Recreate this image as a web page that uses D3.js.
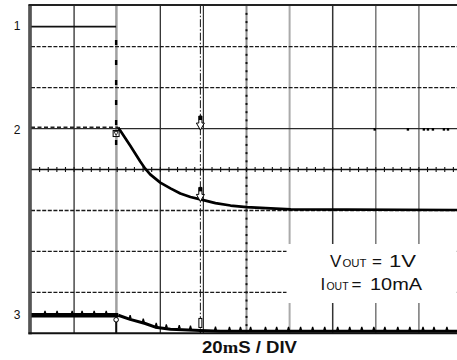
<!DOCTYPE html>
<html><head><meta charset="utf-8">
<script src="https://cdn.jsdelivr.net/npm/d3@7"></script>
<style>html,body{margin:0;padding:0;background:#fff;} svg{display:block;}</style>
</head><body>
<svg id="chart" width="457" height="360"></svg>
<script>
// Time in ms (20 ms per division, 10 divisions); amplitude in screen divisions (centre = 0)
const timeDomain = [0, 200];
const divDomain = [-4, 4];
const gridTimes = [20, 40, 60, 80, 100, 120, 140, 160, 180];
const dashedDivs = [-3, -2, -1, 2, 3];
const solidDivs = [1];
const channelLabels = ["1", "2", "3"];
const channelLevels = [3.5, 0.98, -3.55];

const trace1 = [[0, 3.49], [39.5, 3.49]];
const trace1Edge = 39.5;
const trace2 = [[0, 1.03], [40.5, 1.03], [41.4, 0.95], [46, 0.585], [50.7, 0.195], [53, 0.02], [55.3, -0.12],
  [60, -0.32], [64.7, -0.46], [69.3, -0.585], [74, -0.67], [78.6, -0.73], [85.6, -0.82], [92.6, -0.88],
  [100, -0.92], [111.2, -0.95], [120.5, -0.975], [200, -0.99]];
const trace2Glitches = [159.5, 174.9, 182.3, 184.2, 186.5, 191.6, 193.5];
const trace3 = [[0, -3.56], [40.5, -3.56], [46, -3.66], [53, -3.76], [57.7, -3.85], [64.7, -3.9],
  [78.6, -3.93], [88, -3.95], [200, -3.95]];
const trace3Spikes = [6.5, 12.1, 19.1, 23.7, 29.3, 34.9, 46, 52.1, 58.1, 62.8, 68.8, 74, 85.6, 92.1, 97.2,
  101.9, 108.8, 114, 119.5, 125.1, 130.7, 136.3, 142.3, 147.9, 153.5, 159.1, 164.2, 170.2, 175.8, 181.9, 187, 193];
const cursorTimes = [39.5, 78.6];
const timebaseLabel = ["20", "m", "S / DIV"];

const svg = d3.select("#chart");
const x = d3.scaleLinear().domain(timeDomain).range([31, 462]);
const y = d3.scaleLinear().domain(divDomain).range([333.3, 5.7]);
const yTop = y(4), yBot = y(-4);

svg.append("clipPath").attr("id", "scr").append("rect")
  .attr("x", x(0)).attr("y", yTop - 1).attr("width", 460).attr("height", yBot - yTop + 1);
const g = svg.append("g").attr("clip-path", "url(#scr)");

// vertical grid lines
const vStyle = {20: ["#4a4a4a", 1.5], 40: ["#a0a0a0", 2.5], 60: ["#222", 1.2], 80: ["#333", 1.2],
  100: ["#8c8c8c", 2], 120: ["#aaa", 2], 140: ["#333", 1.5], 160: ["#777", 1.5], 180: ["#777", 1.5]};
g.selectAll(".vg").data(gridTimes).enter().append("line")
  .attr("x1", d => x(d) - (d === 40 ? 0.8 : 0)).attr("x2", d => x(d) - (d === 40 ? 0.8 : 0))
  .attr("y1", yTop).attr("y2", yBot)
  .attr("stroke", d => vStyle[d][0]).attr("stroke-width", d => vStyle[d][1]);

// horizontal grid
g.selectAll(".hd").data(dashedDivs).enter().append("line")
  .attr("x1", x(0)).attr("x2", x(200)).attr("y1", d => y(d)).attr("y2", d => y(d))
  .attr("stroke", "#1a1a1a").attr("stroke-width", 1.4).attr("stroke-dasharray", "4,1.6");
g.selectAll(".hs").data(solidDivs).enter().append("line")
  .attr("x1", x(0)).attr("x2", x(200)).attr("y1", d => y(d)).attr("y2", d => y(d))
  .attr("stroke", "#2a2a2a").attr("stroke-width", 1.3);

// centre axes with minor ticks
g.append("line").attr("x1", x(0)).attr("x2", x(200)).attr("y1", y(0)).attr("y2", y(0))
  .attr("stroke", "#111").attr("stroke-width", 1.5);
g.selectAll(".ht").data(d3.range(4, 200, 4)).enter().append("line")
  .attr("x1", d => x(d)).attr("x2", d => x(d)).attr("y1", y(0) - 2.5).attr("y2", y(0) + 2.5)
  .attr("stroke", "#111").attr("stroke-width", 1.1);
g.selectAll(".vt").data(d3.range(-3.8, 4, 0.2)).enter().append("rect")
  .attr("x", x(100) - 1).attr("y", d => y(d) - 1).attr("width", 2).attr("height", 2).attr("fill", "#111");

// dash-dot cursor
g.append("line").attr("x1", x(cursorTimes[1])).attr("x2", x(cursorTimes[1]))
  .attr("y1", yTop).attr("y2", yBot).attr("stroke", "#111").attr("stroke-width", 1)
  .attr("stroke-dasharray", "8,2,1.5,2");

// white annotation box
svg.append("rect").attr("x", 286.5).attr("y", 244).attr("width", 170).attr("height", 59).attr("fill", "#fff");

const line = d3.line().x(d => x(d[0])).y(d => y(d[1]));
const t2 = d3.scaleLinear().domain(trace2.map(d => d[0])).range(trace2.map(d => d[1]));
const t3 = d3.scaleLinear().domain(trace3.map(d => d[0])).range(trace3.map(d => d[1]));

// trace 1
g.append("path").datum(trace1).attr("d", line).attr("fill", "none").attr("stroke", "#111").attr("stroke-width", 1.6);
g.append("line").attr("x1", x(trace1Edge)).attr("x2", x(trace1Edge))
  .attr("y1", y(trace1[1][1])).attr("y2", y(0.6))
  .attr("stroke", "#000").attr("stroke-width", 2.4).attr("stroke-dasharray", "5,15").attr("stroke-dashoffset", 6.7);

// trace 2: flat (noisy) part then decay
g.append("path").datum(trace2.slice(0, 2)).attr("d", line).attr("fill", "none").attr("stroke", "#222")
  .attr("stroke-width", 1.5).attr("stroke-dasharray", "4,2.5");
g.append("path").datum(trace2.slice(1)).attr("d", line).attr("fill", "none").attr("stroke", "#000")
  .attr("stroke-width", 2.7).attr("stroke-linejoin", "round");
g.selectAll(".gl").data(trace2Glitches).enter().append("rect")
  .attr("x", d => x(d) - 1.2).attr("y", y(1) - 0.5).attr("width", 2.4).attr("height", 2.6).attr("fill", "#000");

// trace 3
g.append("path").datum(trace3.slice(0, 2)).attr("d", line).attr("fill", "none").attr("stroke", "#000").attr("stroke-width", 4.5);
g.append("path").datum(trace3.slice(1)).attr("d", line).attr("fill", "none").attr("stroke", "#000")
  .attr("stroke-width", 3).attr("stroke-linejoin", "round");
g.selectAll(".sp").data(trace3Spikes).enter().append("path")
  .attr("d", d => {
    const cx = x(d), cy = y(t3(d)) - 1;
    return `M${cx - 1.6},${cy} L${cx - 0.6},${cy - 3.5} L${cx + 0.6},${cy - 3.5} L${cx + 1.6},${cy} Z`;
  })
  .attr("fill", "#000");

// markers
const c1 = x(cursorTimes[0]), c2 = x(cursorTimes[1]);
svg.append("rect").attr("x", c1 - 3).attr("y", y(1) + 2).attr("width", 6).attr("height", 6)
  .attr("fill", "#fff").attr("stroke", "#000").attr("stroke-width", 1);
svg.append("path").attr("d", `M${c1 - 2},${y(1) + 3} L${c1 + 2},${y(1) + 3} L${c1},${y(1) + 7} Z`)
  .attr("fill", "none").attr("stroke", "#000").attr("stroke-width", 0.8);
function arrow(tipY) {
  const p = [[-1.6, -14], [1.6, -14], [1.6, -7], [4, -7], [0, 0], [-4, -7], [-1.6, -7]];
  svg.append("path").attr("d", "M" + p.map(q => `${c2 + q[0]},${tipY + q[1]}`).join("L") + "Z")
    .attr("fill", "#fff").attr("stroke", "#000").attr("stroke-width", 1);
  svg.append("rect").attr("x", c2 - 1.6).attr("y", tipY - 14).attr("width", 3.2).attr("height", 4).attr("fill", "#000");
}
arrow(y(1) + 1.5);
arrow(y(t2(cursorTimes[1])) + 2);
svg.append("line").attr("x1", c1).attr("x2", c1).attr("y1", y(t3(cursorTimes[0])) + 6).attr("y2", yBot)
  .attr("stroke", "#000").attr("stroke-width", 1.6);
svg.append("circle").attr("cx", c1).attr("cy", y(t3(cursorTimes[0])) + 4.5).attr("r", 2.3)
  .attr("fill", "#fff").attr("stroke", "#000").attr("stroke-width", 1);
svg.append("line").attr("x1", c2).attr("x2", c2).attr("y1", y(t3(cursorTimes[1])) - 2).attr("y2", yBot)
  .attr("stroke", "#000").attr("stroke-width", 1);
svg.append("rect").attr("x", c2 - 1.5).attr("y", y(t3(cursorTimes[1])) - 12).attr("width", 3).attr("height", 9)
  .attr("fill", "#fff").attr("stroke", "#000").attr("stroke-width", 1);

// frame
svg.append("rect").attr("x", 28.5).attr("y", yTop - 1).attr("width", 3).attr("height", yBot - yTop + 2).attr("fill", "#9a9a9a");
[29, 31].forEach(px => svg.append("line").attr("x1", px).attr("x2", px).attr("y1", yTop - 1).attr("y2", yBot + 1)
  .attr("stroke", "#111").attr("stroke-width", 1));
svg.append("line").attr("x1", 28.5).attr("x2", 457).attr("y1", 5).attr("y2", 5).attr("stroke", "#222").attr("stroke-width", 2.2);
svg.append("line").attr("x1", 28.5).attr("x2", 457).attr("y1", yBot).attr("y2", yBot).attr("stroke", "#111").attr("stroke-width", 2);

// channel labels
svg.selectAll(".cl").data(channelLabels).enter().append("text")
  .attr("x", 17).attr("y", (d, i) => y(channelLevels[i])).attr("dy", "0.36em")
  .attr("text-anchor", "middle").attr("font-family", "Liberation Sans, Arial, sans-serif")
  .attr("font-size", 12).attr("fill", "#111").text(d => d);

// time base label
const tb = svg.append("text").attr("x", 202).attr("y", 353)
  .attr("font-family", "Liberation Sans, Arial, sans-serif").attr("font-weight", "bold").attr("font-size", 16)
  .attr("fill", "#111").attr("textLength", 95).attr("lengthAdjust", "spacingAndGlyphs");
tb.append("tspan").text(timebaseLabel[0]);
tb.append("tspan").attr("font-family", "Liberation Serif, Times New Roman, serif").text(timebaseLabel[1]);
tb.append("tspan").text(timebaseLabel[2]);

// annotation
const font = "Liberation Sans, Arial, sans-serif";
function txt(s, px, py, size, len) {
  const t = svg.append("text").attr("x", px).attr("y", py).attr("font-family", font).attr("font-size", size)
    .attr("fill", "#111").text(s);
  if (len) t.attr("textLength", len).attr("lengthAdjust", "spacingAndGlyphs");
}
txt("V", 330, 267, 17);
txt("OUT", 342.5, 267, 11.5, 24);
txt("=", 372, 267, 17);
txt("1V", 389, 267, 17, 27);
txt("I", 320.5, 290, 17);
txt("OUT", 326.5, 290, 11.5, 22);
txt("=", 351.5, 290, 17);
txt("10mA", 370, 290, 17, 52);
</script>
</body></html>
